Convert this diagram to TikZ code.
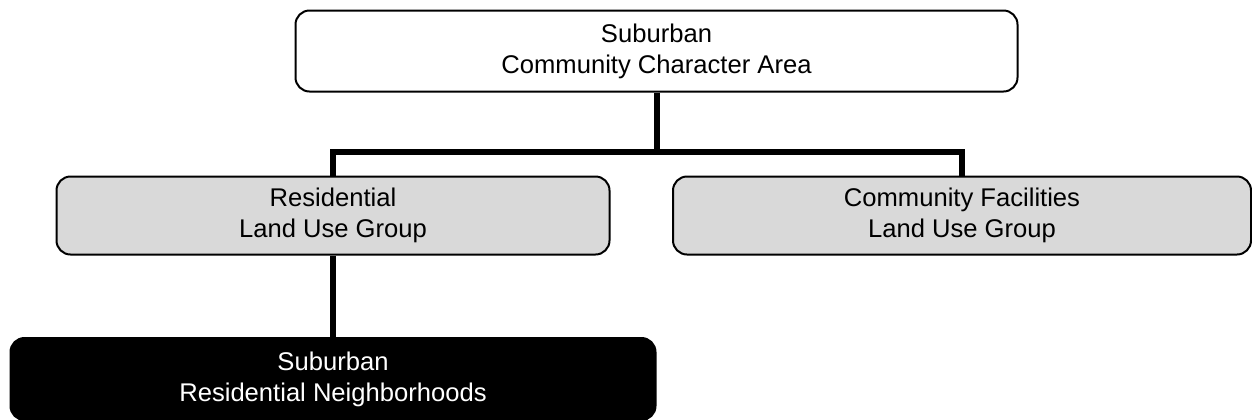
\documentclass[tikz,border=0pt]{standalone}
\usepackage{fontspec}
\setmainfont{Liberation Sans}
\colorlet{groupgray}{black!15}

\begin{document}
\begin{tikzpicture}[
        box/.style={
            draw,
            rectangle,
            rounded corners=7pt,
            line width=1pt,
            inner sep=0pt,
            align=center,
            font=\fontsize{12.8}{15.5}\selectfont,
        },
        landuse/.style={
            fill=groupgray,
        },
        chosen/.style={
            fill=black,
            text=white,
        },
        link/.style={
            line width=3pt,
        },
        x=0.5pt,
        y=-0.5pt,
    ]

    \useasboundingbox (0, 0) rectangle (1252, 419);

    \node[box, minimum width=361pt, minimum height=40.5pt] (area) at (656.5, 51) {Suburban\\Community Character Area};

    \node[box, landuse, minimum width=276.5pt, minimum height=39pt] (resid) at (333, 215.5) {Residential\\Land Use Group};
    \node[box, landuse, minimum width=289pt, minimum height=39pt] (facil) at (962, 215.5) {Community Facilities\\Land Use Group};

    \node[box, chosen, minimum width=322.5pt, minimum height=41pt] (nbhd) at (333, 379) {Suburban\\Residential Neighborhoods};

    \coordinate (split) at (656.5, 152);

    \begin{scope}[link]
        \draw (area) -- (split);
        \draw (split) -| (resid);
        \draw (split) -| (facil);
        \draw (resid) -- (nbhd);
    \end{scope}
\end{tikzpicture}
\end{document}
